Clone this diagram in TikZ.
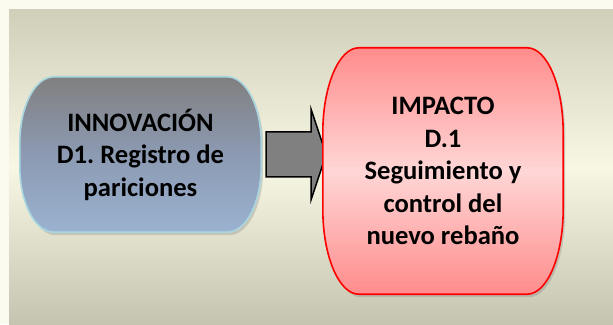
\documentclass[tikz,border=0pt]{standalone}
\usepackage{fontspec}
\setmainfont{Carlito}
\usetikzlibrary{shadows}

\definecolor{fondoclaro}{RGB}{250,250,238}
\definecolor{fondoarriba}{RGB}{207,207,186}
\definecolor{fondomedio}{RGB}{247,247,228}
\definecolor{fondoabajo}{RGB}{196,196,176}
\definecolor{grisinnov}{RGB}{128,128,128}
\definecolor{grisazul}{RGB}{140,154,178}
\definecolor{azulinnov}{RGB}{154,178,208}
\definecolor{bordeinnov}{RGB}{168,214,224}
\definecolor{rosaborde}{RGB}{255,140,140}
\definecolor{rosamedio}{RGB}{255,214,214}

\pgfdeclarelayer{fondo}
\pgfdeclarelayer{background}
\pgfsetlayers{fondo,background,main}

% contorno con lados curvos alrededor de un nodo
\newcommand{\capsula}[4]{%
  \draw[#4] ([xshift=#2]#1.north west) -- ([xshift=-#2]#1.north east)
    arc[start angle=90, end angle=0, x radius=#2, y radius=#3]
    -- ([yshift=#3]#1.south east)
    arc[start angle=0, end angle=-90, x radius=#2, y radius=#3]
    -- ([xshift=#2]#1.south west)
    arc[start angle=270, end angle=180, x radius=#2, y radius=#3]
    -- ([yshift=-#3]#1.north west)
    arc[start angle=180, end angle=90, x radius=#2, y radius=#3]
    -- cycle;}

\frenchspacing

\begin{document}
\begin{tikzpicture}[x=1pt, y=1pt]
        \tikzstyle{texto} = [inner sep=0pt, align=center, font=\bfseries\fontsize{26.6}{32.5}\selectfont]
        \tikzstyle{innovacion} = [draw=bordeinnov, line width=1.6pt, top color=grisinnov, bottom color=azulinnov, middle color=grisazul,
                                  drop shadow={shadow xshift=2pt, shadow yshift=-3pt, opacity=0.3}]
        \tikzstyle{impacto} = [draw=red, line width=1.6pt, top color=rosaborde, bottom color=rosaborde, middle color=rosamedio,
                               drop shadow={shadow xshift=2pt, shadow yshift=-3pt, opacity=0.3}]
        \tikzstyle{flecha} = [draw=black, line width=1.5pt, fill=grisinnov, line join=miter]

        \useasboundingbox (0,0) rectangle (613,324);

        % Fondo
        \begin{pgfonlayer}{fondo}
            \fill[fondoclaro] (0,0) rectangle (613,324);
            \shade[top color=fondoarriba, bottom color=fondoabajo, middle color=fondomedio] (9,0) rectangle (613,314);
        \end{pgfonlayer}

        % Nodos
        \node[texto, minimum width=241pt, minimum height=155pt](innov) at (140.5, 169.5)
            {INNOVACIÓN\\D1. Registro de\\pariciones};
        \node[texto, minimum width=240pt, minimum height=246pt](impac) at (443, 153)
            {IMPACTO\\D.1\\Seguimiento y\\control del\\nuevo rebaño};

        % Formas y flecha
        \begin{pgfonlayer}{background}
            \capsula{innov}{34pt}{66pt}{innovacion}
            \draw[flecha] ([shift={(5,22.5)}]innov.east) -- ++(45,0) -- ++(0,22.5)
                -- ++(15,-45) -- ++(-15,-45) -- ++(0,22.5) -- ++(-45,0) -- cycle;
            \capsula{impac}{36pt}{85pt}{impacto}
        \end{pgfonlayer}
    \end{tikzpicture}
\end{document}
